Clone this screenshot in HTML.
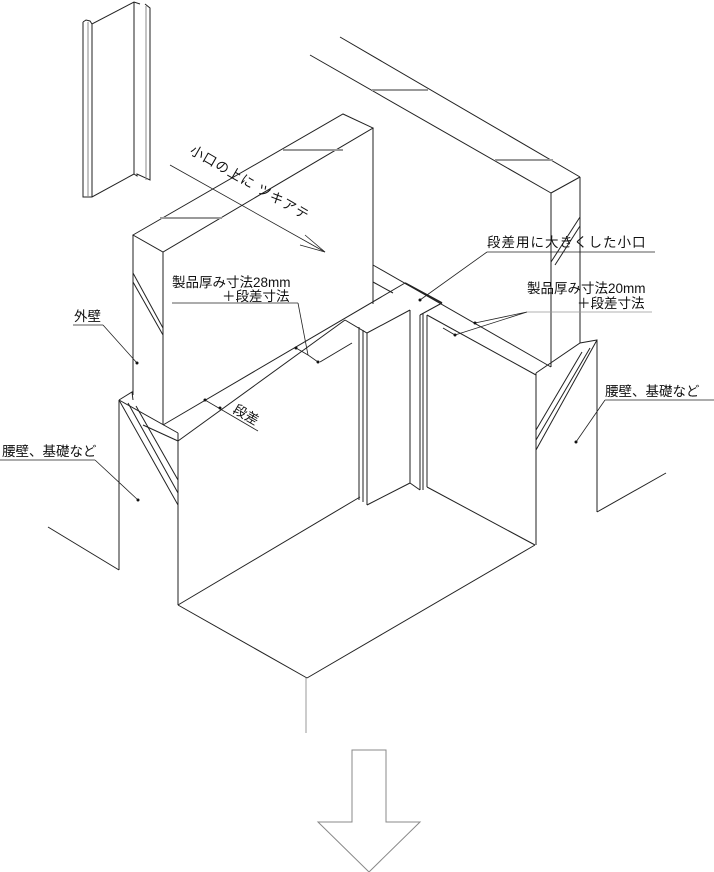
<!DOCTYPE html>
<html><head><meta charset="utf-8"><style>
html,body{margin:0;padding:0;background:#fff}
svg{display:block}
text{font-family:"Liberation Sans","Noto Sans CJK JP",sans-serif;font-size:13.5px;fill:#111}
</style></head><body>
<svg width="714" height="872" viewBox="0 0 714 872" xmlns="http://www.w3.org/2000/svg">
<g fill="none" stroke="#222" stroke-width="1">
<polyline points="83,22 83,197 92,197 134,174 137,176 137,174 150,180 150,8 145,4"/>
<line x1="88" y1="22" x2="88" y2="197" stroke="#888"/>
<line x1="92" y1="24" x2="92" y2="197"/>
<polyline points="83,22 86,20 90,21 92,24 134,2 140,4"/>
<line x1="134" y1="2" x2="134" y2="174"/>
<line x1="146" y1="6" x2="146" y2="180" stroke="#888"/>
<line x1="340" y1="37" x2="580" y2="177"/>
<line x1="310" y1="55" x2="551" y2="193"/>
<line x1="551" y1="193" x2="580" y2="177"/>
<line x1="551" y1="193" x2="551" y2="367"/>
<line x1="580" y1="177" x2="580" y2="343"/>
<line x1="372" y1="90" x2="428" y2="90" stroke="#999" stroke-width="2"/>
<line x1="495" y1="160" x2="553" y2="160" stroke="#999" stroke-width="2"/>
<line x1="580" y1="217" x2="551" y2="262"/><line x1="580" y1="226" x2="555" y2="265"/>
<polygon points="133,235 343,114 373,128 163,252"/>
<line x1="163" y1="252" x2="163" y2="425"/>
<line x1="133" y1="235" x2="133" y2="395"/>
<line x1="373" y1="128" x2="373" y2="304"/>
<line x1="160" y1="218" x2="222" y2="218" stroke="#999" stroke-width="2"/>
<line x1="283" y1="150" x2="343" y2="150" stroke="#999" stroke-width="2"/>
<line x1="133" y1="273" x2="163" y2="328"/><line x1="133" y1="282" x2="163" y2="335"/>
<line x1="163" y1="425" x2="405" y2="283"/>
<line x1="178" y1="441" x2="345" y2="320"/>
<line x1="143" y1="425" x2="178" y2="441"/>
<line x1="320" y1="362" x2="352" y2="343"/>
<polyline points="119,400 132,392 133,400"/>
<line x1="119" y1="400" x2="178" y2="433"/>
<line x1="119" y1="400" x2="119" y2="570"/>
<line x1="178" y1="433" x2="178" y2="605"/>
<line x1="119" y1="400" x2="178" y2="505"/><line x1="128" y1="403" x2="178" y2="493"/><line x1="136" y1="406" x2="178" y2="480"/>
<line x1="48" y1="527" x2="119" y2="570"/>
<line x1="178" y1="605" x2="307" y2="678"/>
<line x1="307" y1="678" x2="535" y2="545"/>
<line x1="178" y1="605" x2="360" y2="497"/>
<line x1="427" y1="487" x2="535" y2="545"/>
<line x1="373" y1="265" x2="551" y2="367"/>
<line x1="405" y1="283" x2="442" y2="303" stroke-width="1.6"/>
<line x1="373" y1="282" x2="393" y2="293"/>
<polyline points="345,320 367,333 410,310"/>
<line x1="420" y1="315" x2="442" y2="303"/>
<line x1="359" y1="327" x2="359" y2="500"/>
<line x1="363" y1="330" x2="363" y2="502"/>
<line x1="367" y1="333" x2="367" y2="505"/>
<line x1="367" y1="505" x2="410" y2="483"/>
<line x1="410" y1="310" x2="410" y2="483"/>
<line x1="410" y1="483" x2="420" y2="490"/>
<line x1="420" y1="315" x2="420" y2="490"/>
<line x1="423" y1="313" x2="423" y2="490"/>
<line x1="427" y1="315" x2="427" y2="487"/>
<line x1="427" y1="315" x2="536" y2="375"/>
<line x1="443" y1="328" x2="455" y2="335"/>
<polyline points="536,373 580,343 597,340 597,512"/>
<line x1="536" y1="373" x2="536" y2="545"/>
<line x1="597" y1="340" x2="536" y2="450"/><line x1="590" y1="348" x2="536" y2="440"/><line x1="582" y1="352" x2="536" y2="430"/>
<line x1="597" y1="512" x2="666" y2="473"/>
</g>
<g stroke="#222" stroke-width="0.8" fill="none">
<line x1="170" y1="165" x2="325" y2="252"/>
<polyline points="300,245 325,252 305,235"/>
<line x1="172" y1="303" x2="298" y2="303"/><polyline points="298,303 308,355 318,362"/><line x1="296" y1="348" x2="308" y2="355"/>
<line x1="73" y1="325" x2="103" y2="325"/><line x1="103" y1="325" x2="137" y2="363"/>
<line x1="205" y1="400" x2="258" y2="431"/>
<line x1="0" y1="460" x2="95" y2="460"/><line x1="95" y1="460" x2="138" y2="500"/>
<line x1="487" y1="252" x2="655" y2="252"/><line x1="487" y1="252" x2="420" y2="300"/>
<line x1="527" y1="312" x2="652" y2="312" stroke="#999"/><polyline points="475,323 527,312 455,335"/>
<line x1="605" y1="400" x2="714" y2="400"/><line x1="605" y1="400" x2="576" y2="442"/>
</g>
<g fill="#111">
<circle cx="296" cy="348" r="1.5"/><circle cx="318" cy="362" r="1.5"/><circle cx="137" cy="363" r="1.5"/>
<circle cx="205" cy="400" r="1.5"/><circle cx="220" cy="408" r="1.5"/><circle cx="138" cy="500" r="1.5"/>
<circle cx="420" cy="300" r="1.5"/><circle cx="475" cy="323" r="1.5"/><circle cx="455" cy="335" r="1.5"/><circle cx="576" cy="442" r="1.5"/>
</g>
<text transform="translate(189,153) rotate(30)" letter-spacing="1">小口の上に ツキアテ</text>
<text x="172" y="287">製品厚み寸法28mm</text>
<text x="222" y="301">＋段差寸法</text>
<text x="74" y="321">外壁</text>
<text transform="translate(232,412) rotate(30)">段差</text>
<text x="2" y="456">腰壁、基礎など</text>
<text x="487" y="247" letter-spacing="1">段差用に大きくした小口</text>
<text x="527" y="293">製品厚み寸法20mm</text>
<text x="577" y="308">＋段差寸法</text>
<text x="605" y="396">腰壁、基礎など</text>
<line x1="306" y1="678" x2="306" y2="733" stroke="#999"/>
<polygon points="352,750 386,750 386,822 420,822 369,872 318,822 352,822" fill="none" stroke="#888"/>
</svg>
</body></html>
